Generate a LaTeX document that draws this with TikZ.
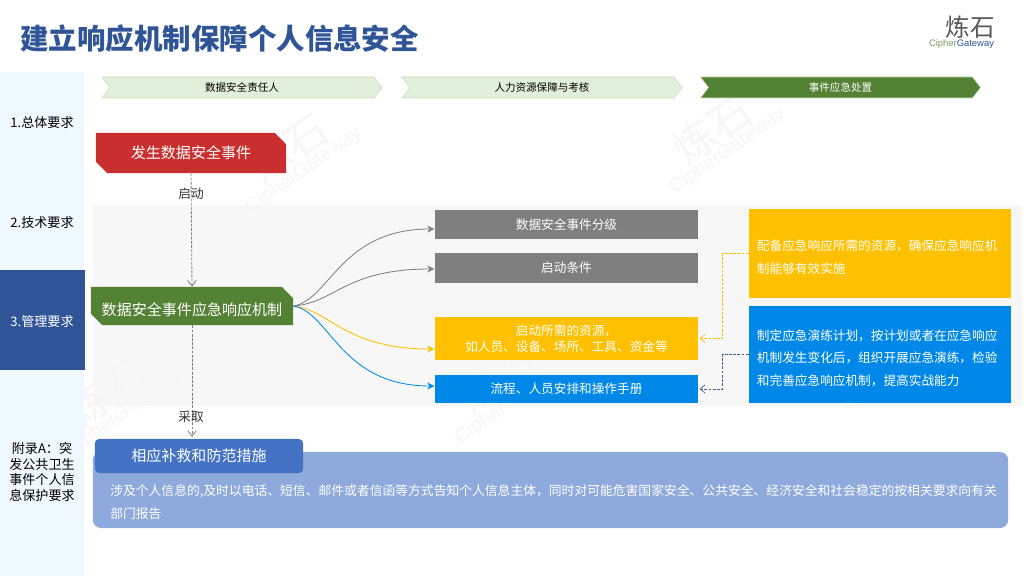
\documentclass[tikz,border=0pt]{standalone}
\usepackage{fontspec}
\setmainfont{Noto Sans CJK SC}
\newfontfamily\latinfont{Liberation Sans}
\usetikzlibrary{arrows.meta,shapes.misc,shapes.symbols}
\definecolor{titleblue}{HTML}{2F5597}
\definecolor{sidebg}{HTML}{F0F8FF}
\definecolor{chevfill}{HTML}{E2EFDA}
\definecolor{chevline}{HTML}{C5E0B4}
\definecolor{leafgreen}{HTML}{548235}
\definecolor{alertred}{HTML}{C92F2F}
\definecolor{panelgray}{HTML}{F7F7F7}
\definecolor{boxgray}{HTML}{7F7F7F}
\definecolor{boxyellow}{HTML}{FFC000}
\definecolor{boxblue}{HTML}{0088E8}
\definecolor{bandblue}{HTML}{8EA9DB}
\definecolor{headblue}{HTML}{4472C4}
\definecolor{dashblue}{HTML}{44618F}
\tikzset{
  sidelabel/.style={align=center,font=\fontsize{9.3}{11.2}\selectfont},
  chevron/.style={signal,signal from=west,signal to=east,signal pointer angle=105,
    minimum width=7cm,minimum height=0.525cm,inner sep=0pt,font=\fontsize{7.5}{9}\selectfont},
  snipbox/.style={chamfered rectangle,chamfered rectangle corners={north east,south west},
    chamfered rectangle xsep=4pt,chamfered rectangle ysep=4pt,inner sep=0pt,text=white,
    font=\fontsize{10.7}{13}\selectfont},
  itembox/.style={minimum width=6.575cm,inner sep=0pt,text=white,align=center,
    font=\fontsize{9}{11.4}\selectfont},
  notebox/.style={minimum width=6.55cm,text width=6.15cm,inner xsep=0.2cm,inner ysep=0pt,text=white,
    align=left,font=\fontsize{9}{16.3}\selectfont,execute at begin node={\rule{0pt}{13pt}}},
  flow/.style={-{Stealth[length=5pt,width=5pt]},shorten >=0.5pt,line width=0.6pt},
  dashlink/.style={-{Straight Barb[length=3.5pt,width=6pt]},dashed,dash pattern=on 2pt off 1pt,
    shorten >=1pt,line width=0.5pt},
  stepline/.style={-{Straight Barb[length=4pt,width=6pt]},gray,dashed,dash pattern=on 2pt off 1pt,
    line width=0.6pt},
  steplabel/.style={font=\fontsize{9}{11}\selectfont,text=black!80},
  mark text/.style={text=gray!7,rotate=35,align=center},
}
\begin{document}
\begin{tikzpicture}[x=0.025cm,y=-0.025cm]
  \useasboundingbox (0,0) rectangle (1024,576);
  % title and logo
  \node[anchor=west,inner sep=0pt,text=titleblue,font=\bfseries\fontsize{20.25}{24}\selectfont] (title) at (20,39) {建立响应机制保障个人信息安全};
  \node[inner sep=0pt,text=black!65,font=\fontsize{17.5}{20}\selectfont] (logo) at (970.5,27) {炼石};
  \node[inner sep=0pt,font=\latinfont\fontsize{6.7}{8}\selectfont] (logoname) at (961.5,44) {\textcolor{leafgreen!80}{Cipher}\textcolor{titleblue}{Gateway}};
  % grey panel and watermarks
  \fill[panelgray] (93,205) rectangle (1022,406);
  \foreach \i/\px/\py in {1/293/155,2/717/136,3/113/398,4/502/386,5/888/353}{
    \node[mark text] (mark\i) at (\px,\py) {\fontsize{30}{30}\selectfont 炼石\\[-2pt]\latinfont\fontsize{14}{16}\selectfont CipherGateway};
  }
  % side column
  \fill[sidebg] (0,72) rectangle (84,576);
  \fill[titleblue] (0,270) rectangle (85,370);
  \node[sidelabel] (general) at (42,123) {1.总体要求};
  \node[sidelabel] (tech) at (42,223) {2.技术要求};
  \node[sidelabel,text=white] (manage) at (42,322) {3.管理要求};
  \node[sidelabel] (annex) at (42,472) {附录A：突\\发公共卫生\\事件个人信\\息保护要求};
  % three phases
  \node[chevron,fill=chevfill,draw=chevline] (phaseone) at (242,87.5) {数据安全责任人};
  \node[chevron,fill=chevfill,draw=chevline] (phasetwo) at (542,87.5) {人力资源保障与考核};
  \node[chevron,fill=leafgreen,draw=chevline,text=white] (phasethree) at (840.5,87.5) {事件应急处置};
  % main column
  \node[snipbox,fill=alertred,minimum width=4.75cm,minimum height=1cm] (event) at (191,153) {发生数据安全事件};
  \node[snipbox,fill=leafgreen,minimum width=5.05cm,minimum height=0.95cm] (mech) at (192,306) {\rule{0pt}{15pt}数据安全事件应急响应机制};
  \draw[stepline] (event.south) -- (mech.north);
  \node[steplabel] (start) at (191,194) {启动};
  % four items
  \node[itembox,fill=boxgray,minimum height=0.725cm] (grade) at (566.5,224.5) {数据安全事件分级};
  \node[itembox,fill=boxgray,minimum height=0.75cm] (cond) at (566.5,268) {启动条件};
  \node[itembox,fill=boxyellow,minimum height=1.075cm] (res) at (566.5,338.5) {启动所需的资源，\\如人员、设备、场所、工具、资金等};
  \node[itembox,fill=boxblue,minimum height=0.7cm] (proc) at (566.5,389) {流程、人员安排和操作手册};
  \coordinate (gradein) at (435,229);
  \coordinate (condin) at (435,269);
  \coordinate (resin) at (435,349);
  \coordinate (procin) at (435,386);
  \draw[flow,gray] (mech.east) .. controls (330,300) and (340,229) .. (gradein);
  \draw[flow,gray] (mech.east) .. controls (335,303) and (345,269) .. (condin);
  \draw[flow,boxyellow] (mech.east) .. controls (330,310) and (345,349) .. (resin);
  \draw[flow,boxblue] (mech.east) .. controls (330,312) and (340,386) .. (procin);
  % two notes
  \node[notebox,fill=boxyellow,minimum height=2.225cm] (prep) at (880,253.5) {配备应急响应所需的资源，确保应急响应机\\制能够有效实施};
  \node[notebox,fill=boxblue,minimum height=2.425cm] (drill) at (880,354.5) {制定应急演练计划，按计划或者在应急响应\\机制发生变化后，组织开展应急演练，检验\\和完善应急响应机制，提高实战能力};
  \draw[dashlink,boxyellow] (prep.west) -- ++(-26,0) |- (res.east);
  \draw[dashlink,dashblue] (drill.west) -- ++(-26,0) |- (proc.east);
  % remedy band
  \node[fill=bandblue,rounded corners=0.2cm,minimum width=22.875cm,minimum height=1.9cm,inner sep=0pt] (band) at (550.5,490) {};
  \node[fill=headblue,rounded corners=0.1cm,minimum width=5.2cm,minimum height=0.85cm,inner sep=0pt,text=white,font=\fontsize{10.7}{13}\selectfont] (remedy) at (199,456) {相应补救和防范措施};
  \node[anchor=west,inner sep=0pt,text=white,align=left,font=\fontsize{9.1}{16.3}\selectfont] (remedytext) at (110,502.5) {涉及个人信息的,及时以电话、短信、邮件或者信函等方式告知个人信息主体，同时对可能危害国家安全、公共安全、经济安全和社会稳定的按相关要求向有关\\部门报告};
  \draw[stepline] (mech.south) -- (192,437);
  \node[steplabel] (take) at (191,417) {采取};
\end{tikzpicture}
\end{document}
